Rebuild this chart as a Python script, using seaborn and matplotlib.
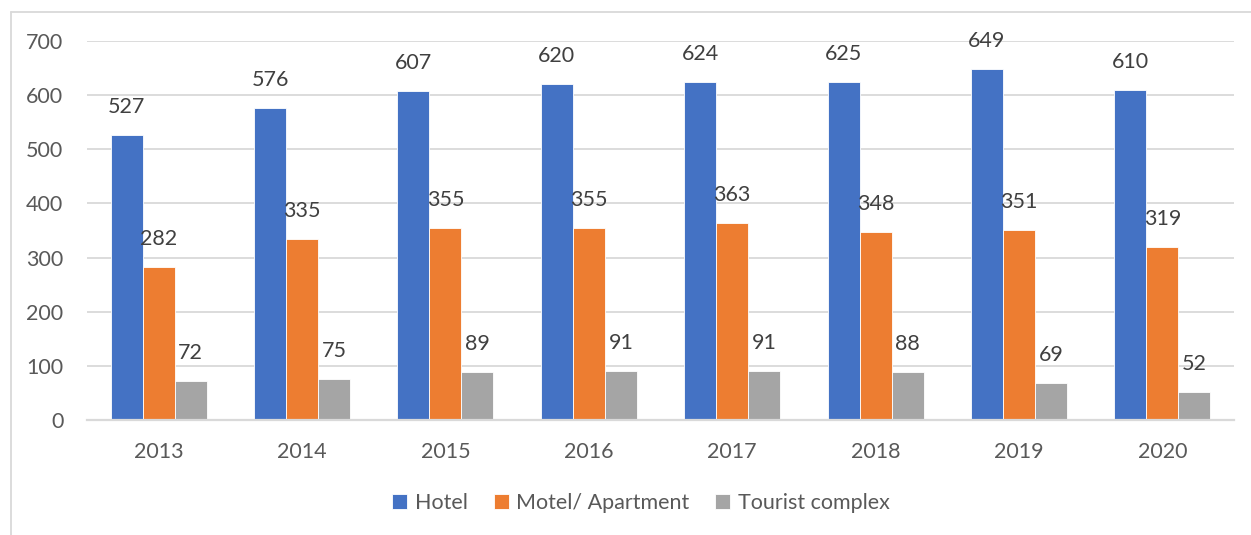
import numpy as np
import pandas as pd
import seaborn as sns
import matplotlib.pyplot as plt
from matplotlib.lines import Line2D

years = ['2013', '2014', '2015', '2016', '2017', '2018', '2019', '2020']
hotel = [527, 576, 607, 620, 624, 625, 649, 610]
motel = [282, 335, 355, 355, 363, 348, 351, 319]
tourist = [72, 75, 89, 91, 91, 88, 69, 52]
series = ['Hotel', 'Motel/ Apartment', 'Tourist complex']
colors = ['#4472C4', '#ED7D31', '#A5A5A5']

df = pd.DataFrame({
    'year': years * 3,
    'type': [series[0]] * 8 + [series[1]] * 8 + [series[2]] * 8,
    'value': hotel + motel + tourist,
})

sns.set_style('white')
plt.rcParams['font.family'] = ['Lato', 'DejaVu Sans']

fig = plt.figure(figsize=(12.51, 5.35), dpi=100)
ax = fig.add_axes([87 / 1251, 115 / 535, 1147 / 1251, 379 / 535])

sns.barplot(data=df, x='year', y='value', hue='type', hue_order=series,
            palette=colors, width=0.67, saturation=1, ax=ax,
            edgecolor='white', linewidth=0.6, legend=True)

ax.set_ylim(0, 700)
ax.set_xlim(-0.5, 7.5)
ax.set_yticks(range(0, 701, 100))
ax.yaxis.grid(True, color='#D9D9D9', linewidth=1.3)
ax.set_axisbelow(True)
for s in ['top', 'right', 'left']:
    ax.spines[s].set_visible(False)
ax.spines['bottom'].set_color('#D9D9D9')
ax.spines['bottom'].set_linewidth(1.6)
ax.set_xlabel('')
ax.set_ylabel('')
ax.tick_params(axis='y', length=0, pad=17, labelsize=15.5, labelcolor='#595959')
ax.tick_params(axis='x', length=0, pad=16, labelsize=15.5, labelcolor='#595959')

for cont in ax.containers:
    for bar in cont:
        h = bar.get_height()
        ax.annotate(f'{h:.0f}', (bar.get_x() + bar.get_width() / 2, h),
                    xytext=(0, 13), textcoords='offset points',
                    ha='center', va='bottom', fontsize=15.5, color='#404040')

handles, labels = ax.get_legend_handles_labels()
ax.legend_.remove()
fig.legend(handles, labels, loc='center', bbox_to_anchor=(641 / 1251, 32 / 535),
           ncol=3, frameon=False, fontsize=15.5, labelcolor='#595959',
           handlelength=0.7, handleheight=0.7, handletextpad=0.35,
           columnspacing=1.2)

# chart area border (cut off at right and bottom)
fig.add_artist(Line2D([11 / 1251, 11 / 1251], [0, 523 / 535],
                      transform=fig.transFigure, color='#D9D9D9', linewidth=1.3))
fig.add_artist(Line2D([11 / 1251, 1], [523 / 535, 523 / 535],
                      transform=fig.transFigure, color='#D9D9D9', linewidth=1.3))

fig.savefig('out.png', dpi=100)
